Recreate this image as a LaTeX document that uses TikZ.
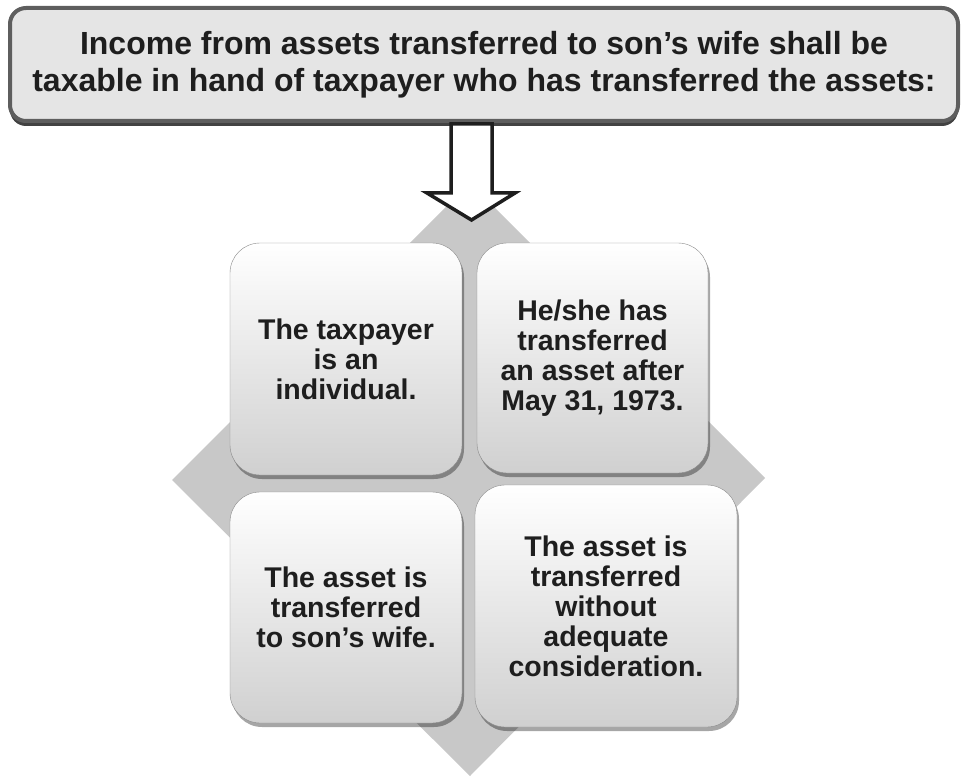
\documentclass[tikz,border=0pt]{standalone}
\usepackage{fontspec}
\setmainfont{Liberation Sans}
\usetikzlibrary{shadows}
\definecolor{bannergray}{HTML}{E5E5E5}
\definecolor{framegray}{HTML}{5E5E5E}
\definecolor{diamondgray}{HTML}{C8C8C8}
\definecolor{boxgray}{HTML}{D0D0D0}
\definecolor{edgegray}{HTML}{8A8A8A}
\definecolor{inkgray}{HTML}{1E1E1E}

\begin{document}
\begin{tikzpicture}[x=1pt,y=-1pt,
	banner/.style={ rounded corners=16pt, fill=bannergray, draw=framegray, line width=4pt, minimum width=948pt, minimum height=113pt, inner sep=0pt, align=center, text=inkgray, font=\fontsize{32}{37}\selectfont\bfseries, drop shadow={shadow xshift=0pt, shadow yshift=-5pt, opacity=1, fill=framegray!70!black} },
	cond/.style={ rounded corners=30pt, top color=white, middle color=white!97!black, bottom color=boxgray, draw=edgegray, thin, inner sep=0pt, align=center, text=inkgray, font=\fontsize{28.5}{30}\selectfont\bfseries, drop shadow={shadow xshift=2pt, shadow yshift=-4pt, opacity=0.35, fill=black} },
	blockarrow/.style={ draw=inkgray, fill=white, line width=3.5pt, line join=miter }
]
\useasboundingbox (0,0) rectangle (962,781);

\fill[diamondgray] (470,183) -- (765,478) -- (470,776) -- (172,480) -- cycle;

\node at (484,64.5) (rule) [banner] {Income from assets transferred to son’s wife shall be\\taxable in hand of taxpayer who has transferred the assets:};

\draw[blockarrow] (451,124) -- (492,124) -- (492,193) -- (515,193) -- (471.5,220) -- (427,193) -- (451,193) -- cycle;

\node at (346,359) (indiv) [cond,minimum width=232pt,minimum height=232pt] {The taxpayer\\is an\\individual.};
\node at (592.5,358) (after) [cond,minimum width=231pt,minimum height=230pt] {He/she has\\transferred\\an asset after\\May 31, 1973.};
\node at (346,607.5) (wife) [cond,minimum width=232pt,minimum height=231pt] {The asset is\\transferred\\to son’s wife.};
\node at (606,606) (consid) [cond,minimum width=262pt,minimum height=242pt] {The asset is\\transferred\\without\\adequate\\consideration.};

\end{tikzpicture}
\end{document}
